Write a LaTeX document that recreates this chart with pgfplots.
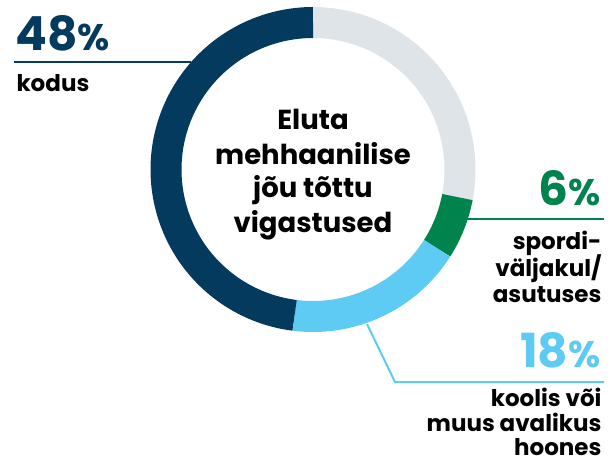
\documentclass[border=0pt]{standalone}
\usepackage{fontspec}
\setmainfont{Poppins}
\usepackage{pgfplots}
\pgfplotsset{compat=1.18}
\definecolor{navy}{HTML}{053A5F}
\definecolor{ringgray}{HTML}{DFE4E8}
\definecolor{sgreen}{HTML}{00834D}
\definecolor{lblue}{HTML}{5DCBF4}
\begin{document}
\begin{tikzpicture}
\begin{axis}[
  hide axis, scale only axis,
  width=610pt, height=464pt,
  xmin=0, xmax=610, ymin=0, ymax=464,
  y dir=reverse, clip=false,
  every node/.style={inner sep=0pt, outer sep=0pt},
]
\path (axis cs:0,0) rectangle (axis cs:610,464);
% donut: cumulative percentages, clockwise from 12 o'clock
% gray remainder 28, green 6, light blue 18, navy 48
\addplot[draw=ringgray, line width=31pt, domain=0:28, samples=80, variable=\t]
  ({313+147*cos(90-3.6*\t)}, {169.5-147*sin(90-3.6*\t)});
\addplot[draw=sgreen, line width=31pt, domain=28:34, samples=30, variable=\t]
  ({313+147*cos(90-3.6*\t)}, {169.5-147*sin(90-3.6*\t)});
\addplot[draw=lblue, line width=31pt, domain=34:52, samples=60, variable=\t]
  ({313+147*cos(90-3.6*\t)}, {169.5-147*sin(90-3.6*\t)});
\addplot[draw=navy, line width=31pt, domain=52:100, samples=120, variable=\t]
  ({313+147*cos(90-3.6*\t)}, {169.5-147*sin(90-3.6*\t)});
% leader lines
\addplot[navy, line width=2pt] coordinates {(14,62) (191,62)};
\addplot[sgreen, line width=2pt] coordinates {(452,219) (604,219)};
\addplot[lblue, line width=2pt] coordinates {(367,324) (395,382) (604,382)};
% labels
\node[anchor=base west, text=navy, font=\fontsize{47}{47}\selectfont\bfseries] at (axis cs:12,50) {48{\fontsize{37}{37}\selectfont\%}};
\node[anchor=base west, font=\fontsize{23}{23}\selectfont\bfseries] at (axis cs:13,91) {kodus};
\node[anchor=base east, text=sgreen, font=\fontsize{47}{47}\selectfont\bfseries] at (axis cs:604,205) {6{\fontsize{37}{37}\selectfont\%}};
\node[anchor=base east, font=\fontsize{23}{23}\selectfont\bfseries] at (axis cs:605,249) {spordi-};
\node[anchor=base east, font=\fontsize{23}{23}\selectfont\bfseries] at (axis cs:605,276) {väljakul/};
\node[anchor=base east, font=\fontsize{23}{23}\selectfont\bfseries] at (axis cs:605,302) {asutuses};
\node[anchor=base east, text=lblue, font=\fontsize{47}{47}\selectfont\bfseries] at (axis cs:604,367) {18{\fontsize{37}{37}\selectfont\%}};
\node[anchor=base east, font=\fontsize{23}{23}\selectfont\bfseries] at (axis cs:605,406) {koolis või};
\node[anchor=base east, font=\fontsize{23}{23}\selectfont\bfseries] at (axis cs:605,431) {muus avalikus};
\node[anchor=base east, font=\fontsize{23}{23}\selectfont\bfseries] at (axis cs:605,455) {hoones};
% centre title
\node[anchor=base, font=\fontsize{27.5}{27.5}\selectfont\bfseries] at (axis cs:313,129) {Eluta};
\node[anchor=base, font=\fontsize{27.5}{27.5}\selectfont\bfseries] at (axis cs:313,164) {mehhaanilise};
\node[anchor=base, font=\fontsize{27.5}{27.5}\selectfont\bfseries] at (axis cs:313,197) {jõu tõttu};
\node[anchor=base, font=\fontsize{27.5}{27.5}\selectfont\bfseries] at (axis cs:313,232) {vigastused};
\end{axis}
\end{tikzpicture}
\end{document}
